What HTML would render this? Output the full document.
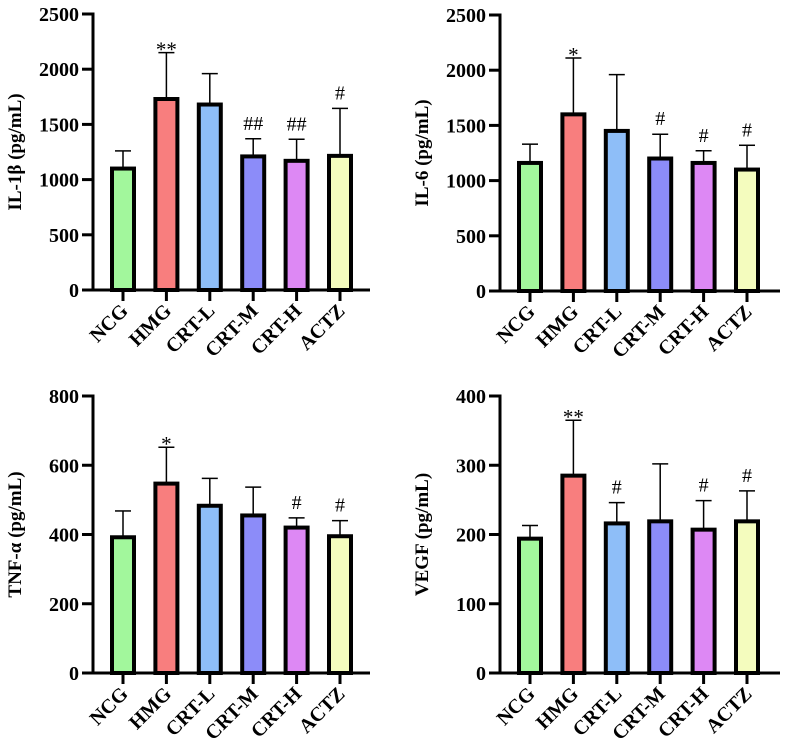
<!DOCTYPE html>
<html><head><meta charset="utf-8"><style>
html,body{margin:0;padding:0;background:#fff;}
svg{display:block;font-family:"Liberation Serif",serif;}
</style></head><body>
<svg id="c" width="793" height="755" viewBox="0 0 793 755"></svg>
<script>
const categories=["NCG","HMG","CRT-L","CRT-M","CRT-H","ACTZ"];
const colors=["#a2f79c","#f87e7e","#8ebef8","#8c8cf9","#dd88f4","#f4fcbe"];
const il1bMeans=[1100,1730,1680,1210,1170,1215];
const il1bUpper=[1260,2150,1960,1370,1365,1645];
const il1bMarks=["","**","","##","##","#"];
const il6Means=[1160,1600,1450,1200,1160,1100];
const il6Upper=[1330,2110,1960,1420,1270,1320];
const il6Marks=["","*","","#","#","#"];
const tnfMeans=[392,547,483,455,420,395];
const tnfUpper=[468,652,562,537,448,440];
const tnfMarks=["","*","","","#","#"];
const vegfMeans=[194,285,216,219,207,219];
const vegfUpper=[213,365,246,302,249,263];
const vegfMarks=["","**","#","","#","#"];
const il1bTicks=[0,500,1000,1500,2000,2500];
const il6Ticks=[0,500,1000,1500,2000,2500];
const tnfTicks=[0,200,400,600,800];
const vegfTicks=[0,100,200,300,400];

const NS="http://www.w3.org/2000/svg";
const svg=document.getElementById('c');
function mk(tag,attrs,parent){const e=document.createElementNS(NS,tag);for(const k in attrs)e.setAttribute(k,attrs[k]);(parent||svg).appendChild(e);return e;}

function panel(name,ax,top,bottom,xend,ticks,title,means,upper,marks){
  const g=mk('g',{});
  
  
  const max=ticks[ticks.length-1];
  const y=v=>bottom-(v/max)*(bottom-top);
  const step=43.4, x0=ax+30;
  const x=i=>x0+i*step;
  means.forEach((m,i)=>{
    const cx=x(i);
    const eb=mk('line',{x1:cx,x2:cx,y1:y(m),y2:y(upper[i]),stroke:'#000','stroke-width':1.5},g);
    
    
    const cap=mk('line',{x1:cx-8,x2:cx+8,y1:y(upper[i]),y2:y(upper[i]),stroke:'#000','stroke-width':1.5},g);
    
    
    const r=mk('rect',{x:cx-11,y:y(m),width:22,height:bottom-y(m),fill:colors[i],stroke:'#000','stroke-width':4},g);
    
    
    if(marks[i]){
      const star=marks[i].includes('*');
      const t=mk('text',{x:cx,y:y(upper[i])-(star?-4:9),'text-anchor':'middle','font-size':star?21:20},g);
      t.textContent=marks[i];
      
      
    }
    const tk=mk('line',{x1:cx,x2:cx,y1:bottom,y2:bottom+11,stroke:'#000','stroke-width':3},g);
    
    
    const lb=mk('text',{transform:`translate(${cx+6},${bottom+22}) rotate(-45)`,'text-anchor':'end','font-size':20,'font-weight':'bold'},g);
    lb.textContent=categories[i];
    
    
  });
  const ya=mk('line',{x1:ax,x2:ax,y1:top-1.5,y2:bottom+1.5,stroke:'#000','stroke-width':3},g);
  
  
  const xa=mk('line',{x1:ax-11,x2:xend,y1:bottom,y2:bottom,stroke:'#000','stroke-width':3},g);
  
  
  ticks.forEach(t=>{
    const l=mk('line',{x1:ax-11,x2:ax,y1:y(t),y2:y(t),stroke:'#000','stroke-width':3},g);
    
    
    const tx=mk('text',{x:ax-14,y:y(t)+7,'text-anchor':'end','font-size':20,'font-weight':'bold'},g);
    tx.textContent=t;
    
    
  });
  const tt=mk('text',{transform:`translate(${ax-72},${(top+bottom)/2}) rotate(-90)`,'text-anchor':'middle','font-size':19,'font-weight':'bold'},g);
  tt.textContent=title;
  
  
}
panel('il-1b',93,14,290,370,il1bTicks,'IL-1β (pg/mL)',il1bMeans,il1bUpper,il1bMarks);
panel('il-6',500,15,291,780,il6Ticks,'IL-6 (pg/mL)',il6Means,il6Upper,il6Marks);
panel('tnf-a',93,396,673,370,tnfTicks,'TNF-α (pg/mL)',tnfMeans,tnfUpper,tnfMarks);
panel('vegf',500,396,673,780,vegfTicks,'VEGF (pg/mL)',vegfMeans,vegfUpper,vegfMarks);
</script>
</body></html>
